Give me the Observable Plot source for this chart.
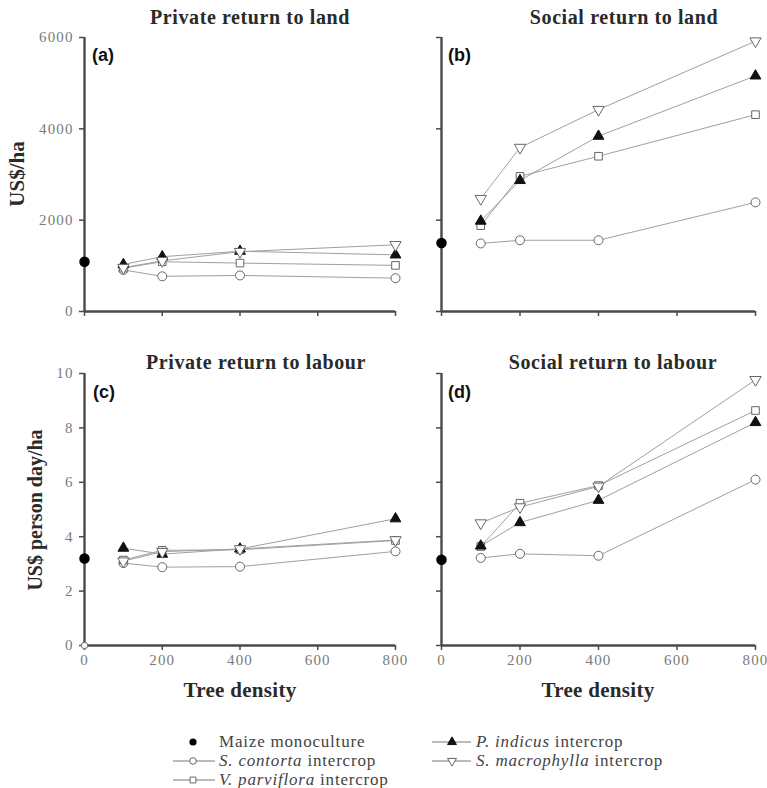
<!DOCTYPE html>
<html><head><meta charset="utf-8">
<script src="https://cdn.jsdelivr.net/npm/d3@7"></script>
<script src="https://cdn.jsdelivr.net/npm/@observablehq/plot@0.6"></script>
<style>
body{margin:0;background:#fff;}
#wrap{position:relative;width:767px;height:788px;overflow:hidden;background:#fff;}
.panel{position:absolute;}
.panel text{font-family:"Liberation Serif","Times New Roman",serif !important;}
#overlay{position:absolute;left:0;top:0;pointer-events:none;}
#overlay text.serif{font-family:"Liberation Serif","Times New Roman",serif;}
#overlay text.sans{font-family:"Liberation Sans",Arial,sans-serif;}
</style></head><body><div id="wrap"></div>
<script>
// ---------- data ----------
const density = [100, 200, 400, 800];
const seriesNames = ["S. contorta", "V. parviflora", "P. indicus", "S. macrophylla"];
const xTicks = [0, 200, 400, 600, 800];
const landTicks = [0, 2000, 4000, 6000];
const labourTicks = [0, 2, 4, 6, 8, 10];

// (a) Private return to land (US$/ha)
const maizePrivateLand = 1090;
const contortaPrivateLand = [910, 770, 790, 730];
const parvifloraPrivateLand = [950, 1090, 1060, 1010];
const indicusPrivateLand = [1030, 1200, 1320, 1240];
const macrophyllaPrivateLand = [960, 1110, 1310, 1460];

// (b) Social return to land (US$/ha)
const maizeSocialLand = 1500;
const contortaSocialLand = [1490, 1560, 1560, 2390];
const parvifloraSocialLand = [1880, 2960, 3400, 4310];
const indicusSocialLand = [1980, 2870, 3840, 5160];
const macrophyllaSocialLand = [2470, 3590, 4420, 5920];

// (c) Private return to labour (US$ person day/ha)
const maizePrivateLabour = 3.2;
const contortaPrivateLabour = [3.03, 2.88, 2.9, 3.46];
const parvifloraPrivateLabour = [3.14, 3.5, 3.52, 3.86];
const indicusPrivateLabour = [3.58, 3.36, 3.55, 4.66];
const macrophyllaPrivateLabour = [3.1, 3.45, 3.55, 3.88];
const strayOriginPoint = [{x: 0, y: 0}];

// (d) Social return to labour (US$ person day/ha)
const maizeSocialLabour = 3.15;
const contortaSocialLabour = [3.22, 3.37, 3.3, 6.1];
const parvifloraSocialLabour = [3.64, 5.23, 5.88, 8.64];
const indicusSocialLabour = [3.66, 4.52, 5.34, 8.2];
const macrophyllaSocialLabour = [4.5, 5.09, 5.85, 9.77];

// ---------- styles ----------
const symStyles = [
  {symbol: "circle", fill: "white", stroke: "#666", r: 4.5, rotate: 0},
  {symbol: "square", fill: "white", stroke: "#666", r: 4.3, rotate: 0},
  {symbol: "triangle", fill: "#111", stroke: "#111", r: 4, rotate: 0},
  {symbol: "triangle", fill: "white", stroke: "#666", r: 4.2, rotate: 180}
];
const AX = "#4a4a4a";
const TICKTXT = "#7a7a7a";

function makePanel(cfg) {
  const rows = [];
  cfg.series.forEach((vals, i) => vals.forEach((v, j) => rows.push({density: density[j], value: v, series: seriesNames[i], idx: i})));
  const marks = [
    Plot.line(rows, {x: "density", y: "value", z: "series", stroke: "#a0a0a0", strokeWidth: 1}),
    Plot.ruleX([0], {stroke: AX, strokeWidth: 2.4}),
    Plot.ruleY([0], {stroke: AX, strokeWidth: 2.4}),
    Plot.axisX({ticks: xTicks, tickSize: 5, tickPadding: 4, stroke: AX, strokeWidth: 1.5, fill: TICKTXT,
      fontFamily: "Liberation Serif", fontSize: 15,
      tickFormat: cfg.showX ? (d => String(d)) : (() => ""), label: null}),
    Plot.axisY({ticks: cfg.yTicks, tickSize: 5, tickPadding: 6, stroke: AX, strokeWidth: 1.5, fill: TICKTXT,
      fontFamily: "Liberation Serif", fontSize: 15,
      tickFormat: cfg.showY ? (d => String(d)) : (() => ""), label: null})
  ];
  symStyles.forEach((s, i) => {
    marks.push(Plot.dot(rows.filter(d => d.idx === i), {x: "density", y: "value", symbol: s.symbol, r: s.r,
      fill: s.fill, stroke: s.stroke, strokeWidth: 1, rotate: s.rotate}));
  });
  if (cfg.stray) marks.push(Plot.dot(cfg.stray, {x: "x", y: "y", r: 3.2, fill: "white", stroke: "#666", strokeWidth: 1}));
  marks.push(Plot.dot([{x: 0, y: cfg.maize}], {x: "x", y: "y", r: 4.5, fill: "#000", stroke: "#000"}));
  const svg = Plot.plot({
    width: cfg.width, height: cfg.height,
    marginLeft: cfg.ml, marginRight: cfg.mr, marginTop: cfg.mt, marginBottom: cfg.mb,
    x: {domain: [0, 800]}, y: {domain: cfg.yDomain},
    style: {fontFamily: "Liberation Serif, serif", fontSize: "15px", letterSpacing: "1.1px", background: "transparent", overflow: "visible"},
    marks
  });
  svg.classList.add("panel");
  svg.style.left = cfg.left + "px";
  svg.style.top = cfg.top + "px";
  document.getElementById("wrap").appendChild(svg);
}

makePanel({series: [contortaPrivateLand, parvifloraPrivateLand, indicusPrivateLand, macrophyllaPrivateLand], maize: maizePrivateLand,
  yDomain: [0, 6000], yTicks: landTicks, showX: false, showY: true,
  left: 0, top: 0, width: 400, height: 330, ml: 84, mr: 5, mt: 37, mb: 19});
makePanel({series: [contortaSocialLand, parvifloraSocialLand, indicusSocialLand, macrophyllaSocialLand], maize: maizeSocialLand,
  yDomain: [0, 6000], yTicks: landTicks, showX: false, showY: false,
  left: 383, top: 0, width: 380, height: 330, ml: 58, mr: 8, mt: 37, mb: 19});
makePanel({series: [contortaPrivateLabour, parvifloraPrivateLabour, indicusPrivateLabour, macrophyllaPrivateLabour], maize: maizePrivateLabour,
  yDomain: [0, 10], yTicks: labourTicks, showX: true, showY: true, stray: strayOriginPoint,
  left: 0, top: 340, width: 400, height: 340, ml: 84, mr: 5, mt: 33, mb: 35});
makePanel({series: [contortaSocialLabour, parvifloraSocialLabour, indicusSocialLabour, macrophyllaSocialLabour], maize: maizeSocialLabour,
  yDomain: [0, 10], yTicks: labourTicks, showX: true, showY: false,
  left: 383, top: 340, width: 380, height: 340, ml: 58, mr: 8, mt: 33, mb: 35});

// ---------- text overlay & legend ----------
const NS = "http://www.w3.org/2000/svg";
const ov = document.createElementNS(NS, "svg");
ov.setAttribute("id", "overlay");
ov.setAttribute("width", 767); ov.setAttribute("height", 788);
document.getElementById("wrap").appendChild(ov);
function el(tag, attrs, parent = ov) {
  const e = document.createElementNS(NS, tag);
  for (const k in attrs) e.setAttribute(k, attrs[k]);
  parent.appendChild(e); return e;
}
function txt(s, attrs) { const t = el("text", attrs); t.textContent = s; return t; }
const titleAttrs = {class: "serif", "font-weight": "bold", "font-size": 20, "letter-spacing": "0.6", fill: "#2a2a2a", "text-anchor": "middle"};
txt("Private return to land", {...titleAttrs, x: 250, y: 24});
txt("Social return to land", {...titleAttrs, x: 624, y: 24});
txt("Private return to labour", {...titleAttrs, x: 256, y: 369});
txt("Social return to labour", {...titleAttrs, x: 613, y: 369});
const labAttrs = {class: "sans", "font-weight": "bold", "font-size": 18, fill: "#111"};
txt("(a)", {...labAttrs, x: 92, y: 61});
txt("(b)", {...labAttrs, x: 448, y: 61});
txt("(c)", {...labAttrs, x: 93, y: 398});
txt("(d)", {...labAttrs, x: 448, y: 398});
const axAttrs = {class: "serif", "font-weight": "bold", fill: "#2a2a2a", "text-anchor": "middle"};
txt("US$/ha", {...axAttrs, "font-size": 21, transform: "translate(24,174) rotate(-90)"});
txt("US$ person day/ha", {...axAttrs, "font-size": 20, transform: "translate(42,510) rotate(-90)"});
txt("Tree density", {...axAttrs, "font-size": 21, "letter-spacing": "0.3", x: 240, y: 697});
txt("Tree density", {...axAttrs, "font-size": 21, "letter-spacing": "0.3", x: 598, y: 697});

const legendItems = [
  {name: null, label: "Maize monoculture", col: 0, row: 0, maize: true},
  {name: "S. contorta", col: 0, row: 1, s: 0},
  {name: "V. parviflora", col: 0, row: 2, s: 1},
  {name: "P. indicus", col: 1, row: 0, s: 2},
  {name: "S. macrophylla", col: 1, row: 1, s: 3}
];
const colX = [{x0: 173, cx: 193, x1: 215, tx: 219}, {x0: 432, cx: 452, x1: 471, tx: 476}];
const rowY = [742, 761, 780];
legendItems.forEach(it => {
  const c = colX[it.col], y = rowY[it.row];
  if (it.maize) {
    el("circle", {cx: c.cx, cy: y, r: 3.6, fill: "#000"});
  } else {
    el("line", {x1: c.x0, x2: c.x1, y1: y, y2: y, stroke: "#777", "stroke-width": 1});
    const st = symStyles[it.s];
    const sym = d3.symbol(st.symbol === "circle" ? d3.symbolCircle : st.symbol === "square" ? d3.symbolSquare : d3.symbolTriangle, Math.PI * 3.3 * 3.3)();
    el("path", {d: sym, transform: `translate(${c.cx},${y}) rotate(${st.rotate})`, fill: st.fill, stroke: st.stroke, "stroke-width": 1});
  }
  const t = el("text", {class: "serif", x: c.tx, y: y + 5, "font-size": 17, "letter-spacing": "0.8", fill: "#444"});
  if (it.maize) { t.textContent = it.label; }
  else {
    const i1 = el("tspan", {"font-style": "italic"}, t); i1.textContent = it.name;
    const i2 = el("tspan", {}, t); i2.textContent = " intercrop";
  }
});
</script></body></html>
